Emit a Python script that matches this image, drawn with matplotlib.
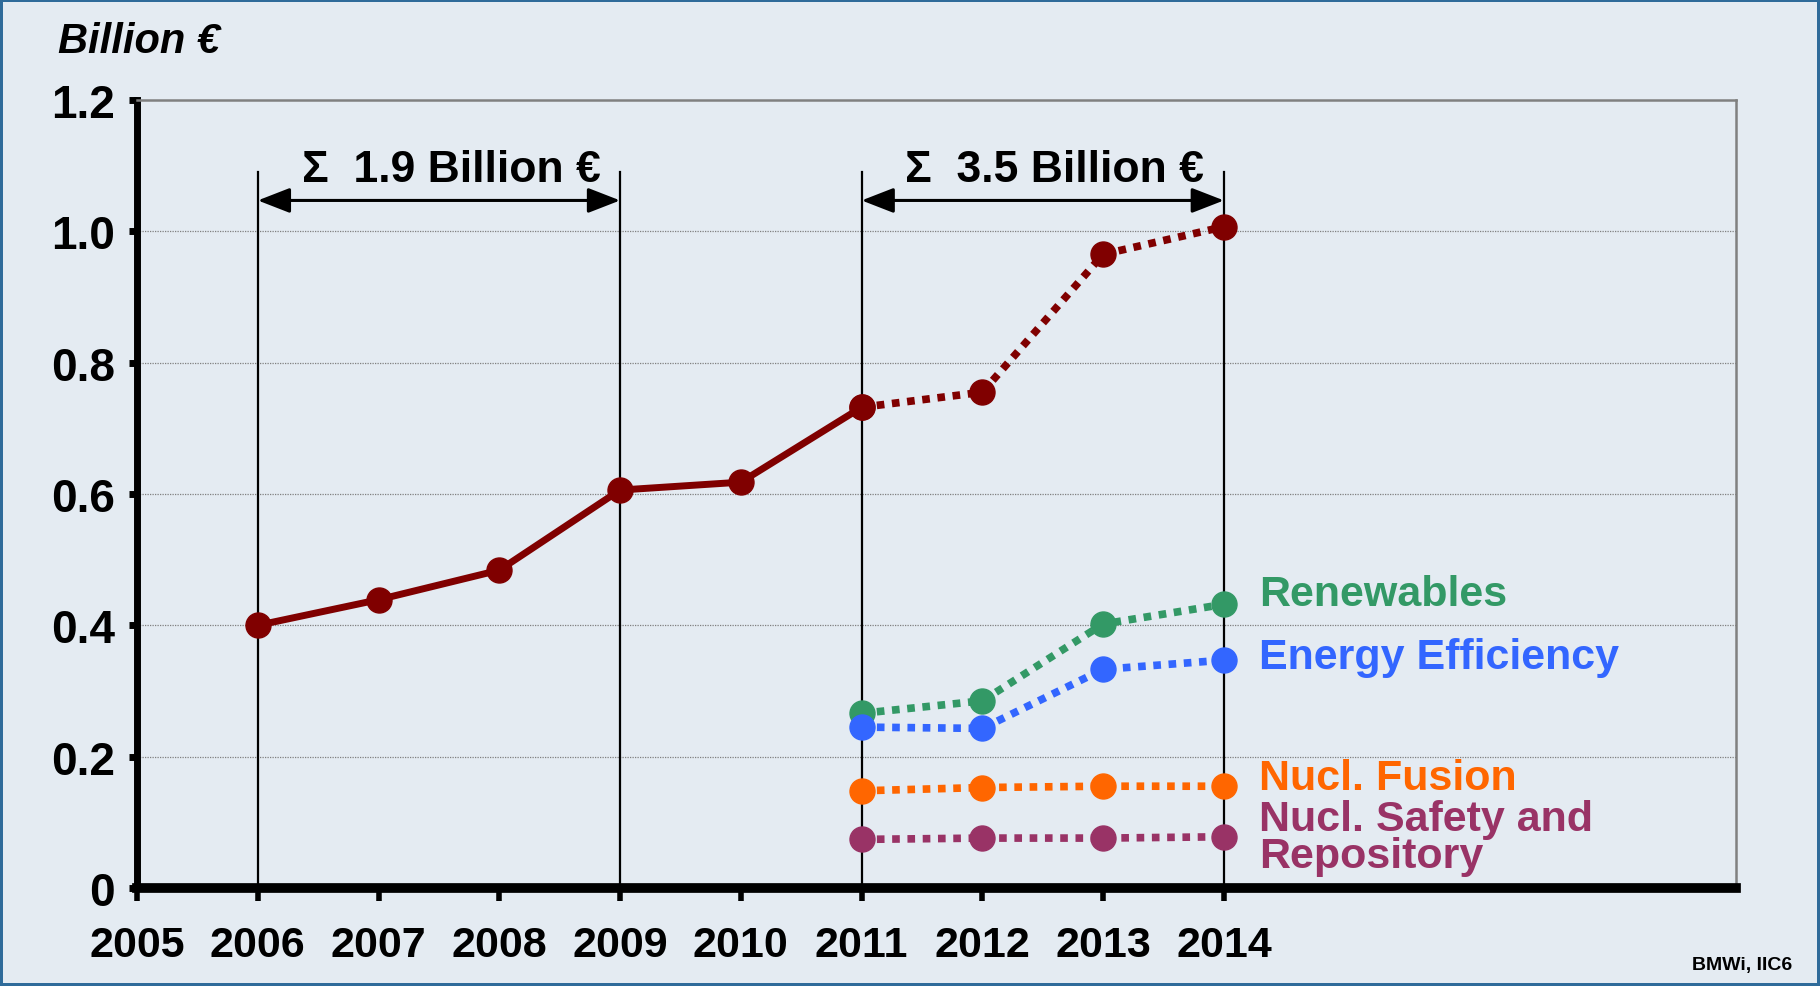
import matplotlib.pyplot as plt
import matplotlib.font_manager as fm

# data (billion EUR)
years_total = [2006, 2007, 2008, 2009, 2010, 2011]
total_actual = [0.40, 0.439, 0.484, 0.606, 0.618, 0.732]
years_plan = [2011, 2012, 2013, 2014]
total_plan = [0.732, 0.755, 0.965, 1.007]
renewables = [0.266, 0.285, 0.402, 0.432]
efficiency = [0.245, 0.243, 0.333, 0.347]
fusion = [0.148, 0.153, 0.155, 0.155]
safety = [0.074, 0.076, 0.076, 0.078]

series_labels = ['Renewables', 'Energy Efficiency', 'Nucl. Fusion', 'Nucl. Safety and\nRepository']
series_colors = ['#339966', '#3366FF', '#FF6600', '#993366']
label_y = [0.448, 0.351, 0.167, 0.077]

x_ticks = list(range(2005, 2015))
y_ticks = [0, 0.2, 0.4, 0.6, 0.8, 1.0, 1.2]
y_ticklabels = ['0', '0.2', '0.4', '0.6', '0.8', '1.0', '1.2']

installed = {f.name for f in fm.fontManager.ttflist}
fam = ['Liberation Sans Narrow', 'Liberation Sans', 'DejaVu Sans'] if 'Liberation Sans Narrow' in installed else ['Liberation Sans', 'DejaVu Sans']
plt.rcParams['font.family'] = fam
plt.rcParams['font.weight'] = 'bold'

bg = '#E4EBF2'
fig = plt.figure(figsize=(18.2, 9.87), dpi=100, facecolor=bg)
fig.patch.set_edgecolor('#2F6B9A')
fig.patch.set_linewidth(3)
ax = fig.add_axes([0.0753, 0.0993, 0.8785, 0.7984])
ax.set_facecolor(bg)

ax.set_xlim(2005.02, 2018.24)
ax.set_ylim(0, 1.2)

# grid
for v in y_ticks[1:-1]:
    ax.axhline(v, color='#808080', lw=0.9, ls=(0, (1, 1)), zorder=1)

ax.spines['top'].set_color('#808080')
ax.spines['top'].set_linewidth(1.8)
ax.spines['right'].set_color('#808080')
ax.spines['right'].set_linewidth(1.8)
ax.spines['left'].set_linewidth(5)
ax.spines['bottom'].set_linewidth(7)
ax.spines['bottom'].set_zorder(6)

ax.set_xticks(x_ticks)
ax.set_xticklabels([str(y) for y in x_ticks])
ax.set_yticks(y_ticks)
ax.set_yticklabels(y_ticklabels)
ax.tick_params(axis='x', length=9, width=4, pad=18, labelsize=31, direction='out')
ax.tick_params(axis='y', length=6, width=5, pad=10, labelsize=33, direction='out')

# interval markers
for xv in [2006, 2009, 2011, 2014]:
    ax.plot([xv, xv], [0, 1.091], color='black', lw=1.6, zorder=2)
for x0, x1, txt in [(2006, 2009, '\u03a3  1.9 Billion \u20ac'), (2011, 2014, '\u03a3  3.5 Billion \u20ac')]:
    ax.annotate('', xy=(x1, 1.047), xytext=(x0, 1.047),
                arrowprops=dict(arrowstyle='<|-|>,head_length=0.9,head_width=0.35', lw=2.2,
                                color='black', mutation_scale=22, shrinkA=0, shrinkB=0))
    ax.text((x0 + x1) / 2 + 0.1, 1.094, txt, ha='center', va='center', fontsize=32, fontweight='bold')

# main series
ax.plot(years_total, total_actual, color='#800000', lw=5, marker='o', ms=18, zorder=4)
ax.plot(years_plan, total_plan, color='#800000', lw=5.5, ls=(0, (1, 1)), marker='o', ms=18, zorder=4)

for vals, col, lab, ly in zip([renewables, efficiency, fusion, safety], series_colors, series_labels, label_y):
    ax.plot(years_plan, vals, color=col, lw=5.5, ls=(0, (1, 1)), marker='o', ms=18, zorder=4)
    ax.text(2014.29, ly, lab, color=col, ha='left', va='center', fontsize=31,
            fontweight='bold', linespacing=0.9)

fig.text(0.032, 0.957, 'Billion \u20ac', fontsize=30, fontweight='bold', style='italic', ha='left', va='center')
fig.text(0.985, 0.022, 'BMWi, IIC6', fontsize=14, fontweight='bold', ha='right', va='center')

fig.savefig('out.png', dpi=100, facecolor=bg, edgecolor='#2F6B9A')
